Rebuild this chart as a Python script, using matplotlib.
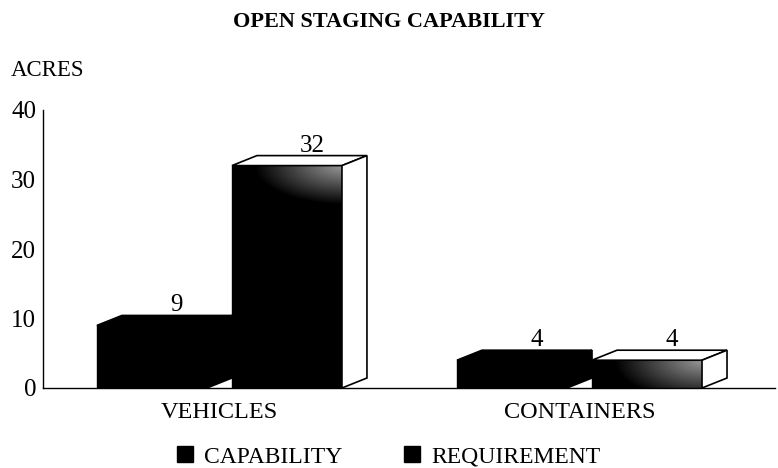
import numpy as np
import matplotlib
matplotlib.use("Agg")
import matplotlib.pyplot as plt
from matplotlib.patches import Polygon, Rectangle, Patch

# Datos del grafico
categories = ["VEHICLES", "CONTAINERS"]
series_names = ["CAPABILITY", "REQUIREMENT"]
capability = [9, 4]
requirement = [32, 4]
y_ticks = [0, 10, 20, 30, 40]

plt.rcParams["font.family"] = ["Liberation Serif", "DejaVu Serif"]

fig = plt.figure(figsize=(7.78, 4.68), dpi=100)
ax = fig.add_axes([43 / 778, 80 / 468, 732 / 778, 278 / 468])
ax.set_xlim(-0.49, 1.543)
ax.set_ylim(0, 40)

bar_w = 0.3056
bar_off = 0.1875
depth_px = (25, 10)  # profundidad del efecto 3D en pixeles

# pixeles por unidad de datos
p0 = ax.transData.transform((0, 0))
p1 = ax.transData.transform((1, 1))
sx, sy = p1[0] - p0[0], p1[1] - p0[1]
ddx, ddy = depth_px[0] / sx, depth_px[1] / sy


def draw_box(xc, h, faces, shaded):
    x0, x1 = xc - bar_w / 2, xc + bar_w / 2
    front = Rectangle((x0, 0), bar_w, h, facecolor="black", edgecolor="black", lw=1, zorder=2)
    ax.add_patch(front)
    if shaded:
        # degradado gris en la cara frontal (esquina superior derecha)
        nx, ny = int(bar_w * sx), max(int(h * sy), 2)
        X, Y = np.meshgrid(np.arange(nx), np.arange(ny))
        d = np.hypot((nx - X) * 0.7, Y * 1.6)
        g = np.clip(1 - d / 62.0, 0, 1) * 0.6
        im = ax.imshow(g, cmap="gray", vmin=0, vmax=1, extent=[x0, x1, 0, h],
                       origin="upper", aspect="auto", zorder=2.5, interpolation="bilinear")
        im.set_clip_path(front)
    top = Polygon([(x0, h), (x1, h), (x1 + ddx, h + ddy), (x0 + ddx, h + ddy)],
                  closed=True, facecolor=faces, edgecolor="black", lw=1.2, zorder=3)
    side = Polygon([(x1, 0), (x1, h), (x1 + ddx, h + ddy), (x1 + ddx, ddy)],
                   closed=True, facecolor=faces, edgecolor="black", lw=1.2, zorder=3)
    ax.add_patch(top)
    ax.add_patch(side)
    ax.annotate(str(h), xy=(xc + ddx, h + ddy), xytext=(0, 4), textcoords="offset pixels",
                ha="center", va="baseline", fontsize=18, zorder=4)


for i in range(len(categories)):
    draw_box(i - bar_off, capability[i], "black", False)
    draw_box(i + bar_off, requirement[i], "white", True)

ax.set_xlim(-0.49, 1.543)
ax.set_ylim(0, 40)

for s in ["top", "right"]:
    ax.spines[s].set_visible(False)
ax.spines["left"].set_linewidth(1)
ax.spines["bottom"].set_linewidth(1)
ax.set_yticks(y_ticks)
ax.set_xticks(range(len(categories)))
ax.set_xticklabels(categories)
ax.tick_params(axis="y", length=0, labelsize=18, pad=5)
ax.tick_params(axis="x", length=0, labelsize=17.5, pad=10)

fig.text(11 / 778, 1 - 71 / 468, "ACRES", fontsize=16.5, ha="left", va="center")
fig.text(0.5, 1 - 22 / 468, "OPEN STAGING CAPABILITY", fontsize=16, fontweight="bold",
         ha="center", va="center")

handles = [Patch(facecolor="black", edgecolor="black"), Patch(facecolor="black", edgecolor="black")]
fig.legend(handles, series_names, loc="center", bbox_to_anchor=(0.5, 1 - 457 / 468), ncol=2,
           frameon=False, fontsize=17, handlelength=0.65, handleheight=0.65,
           handletextpad=0.5, columnspacing=2.6)

fig.savefig("out.png", dpi=100)
